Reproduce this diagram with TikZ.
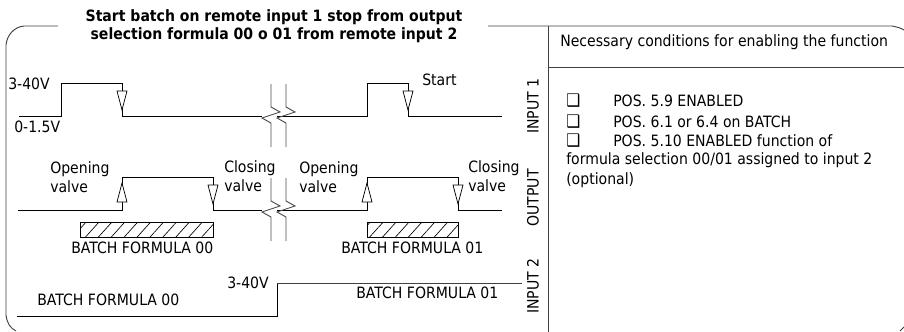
\documentclass[tikz,border=0pt]{standalone}
\usepackage{fontspec}
\setmainfont{DejaVu Sans}[FakeStretch=0.9]
\usetikzlibrary{patterns.meta, positioning}

\begin{document}
\begin{tikzpicture}[
x=0.75pt, y=-0.75pt,
txt/.style={font=\fontsize{11.7}{14}\selectfont, inner sep=0pt},
txt-left/.style={txt, anchor=west},
title-line/.style={txt, font=\fontsize{11.7}{14}\selectfont\bfseries},
side/.style={txt, rotate=90},
check-box/.style={txt-left, font=\fontsize{13}{14}\selectfont\bfseries},
frame/.style={draw=black!75, line width=0.7pt},
trace/.style={draw=black, line width=0.7pt},
tip/.style={draw=black, line width=0.55pt, fill=white},
bar/.style={draw=black, line width=0.6pt, pattern={Lines[angle=48, distance=7.2pt, line width=0.5pt]}},
break-mark/.pic={
  \draw [draw=black!70, line width=0.7pt] (0,0) -- (0,23) -- (9,28) -- (-9,34) -- (0,39) -- (0,63);
  \draw [draw=black!70, line width=0.7pt] (15,0) -- (15,23) -- (24,28) -- (6,34) -- (15,39) -- (15,63);
}
]

\useasboundingbox (0,0) rectangle (904,332);

% frame
\path [frame] (58,26) -- (24,26) .. controls (14,27) and (7,35) .. (6,45) -- (6,315) .. controls (7,323) and (10,328) .. (16,331);
\path [frame] (488,26) -- (892,26) .. controls (897,27) and (901,28) .. (904,30);
\path [frame] (548,26) -- (548,332);
\path [frame] (548,67) -- (904,67);
\path [frame] (900,331) -- (904,327);

% title
\node [title-line] (title-1) at (274,17) {Start batch on remote input 1 stop from output};
\node [title-line] (title-2) at (274,35) {selection formula 00 o 01 from remote input 2};

% input 1
\path [trace] (19,116) -- (61,116) -- (61,83) -- (122,83) -- (122,116) -- (262,116);
\path [trace] (277,116) -- (367,116) -- (367,83) -- (408,83) -- (408,116) -- (502,116);
\path [tip] (117,91) -- (127,91) -- (122,110) -- cycle;
\path [tip] (403,91) -- (413,91) -- (408,110) -- cycle;
\pic at (271,84) {break-mark};

% output
\path [trace] (18,210) -- (122,210) -- (122,177) -- (213,177) -- (213,210) -- (262,210);
\path [trace] (277,210) -- (367,210) -- (367,177) -- (458,177) -- (458,210) -- (502,210);
\path [tip] (117,202) -- (127,202) -- (122,183) -- cycle;
\path [tip] (208,185) -- (218,185) -- (213,204) -- cycle;
\path [tip] (362,202) -- (372,202) -- (367,183) -- cycle;
\path [tip] (453,185) -- (463,185) -- (458,204) -- cycle;
\pic at (271,178) {break-mark};
\path [bar] (80,222) rectangle (213,237);
\path [bar] (367,222) rectangle (458,237);

% input 2
\path [trace] (17,316) -- (277,316) -- (277,283);
\path [frame] (277,283) -- (522,283);

% labels
\node [txt-left] (high-1) at (8,84) {3-40V};
\node [txt-left] (low-1) at (14,127) {0-1.5V};
\node [txt-left] (start) at (422,80) {Start};
\node [txt-left, align=left] (open-1) at (50,177) {Opening\\valve};
\node [txt-left, align=left] (close-1) at (224,176) {Closing\\valve};
\node [txt-left, align=left] (open-2) at (299,177) {Opening\\valve};
\node [txt-left, align=left] (close-2) at (468,176) {Closing\\valve};
\node [txt-left] (batch-00) at (71,248) {BATCH FORMULA 00};
\node [txt-left] (batch-01) at (341,248) {BATCH FORMULA 01};
\node [txt-left] (high-2) at (227,283) {3-40V};
\node [txt-left] (level-00) at (37,300) {BATCH FORMULA 00};
\node [txt-left] (level-01) at (356,293) {BATCH FORMULA 01};
\node [side] (input-1) at (533,106) {INPUT 1};
\node [side] (output) at (533,198) {OUTPUT};
\node [side] (input-2) at (533,286) {INPUT 2};

% conditions
\node [txt-left] (cond-head) at (560,42) {Necessary conditions for enabling the function};
\node [check-box] (box-1) at (566,101) {❑};
\node [check-box] (box-2) at (566,122) {❑};
\node [check-box] (box-3) at (566,141) {❑};
\node [txt-left] (cond-1) at (613,101) {POS. 5.9 ENABLED};
\node [txt-left] (cond-2) at (613,122) {POS. 6.1 or 6.4 on BATCH};
\node [txt-left] (cond-3) at (613,141) {POS. 5.10 ENABLED function of};
\node [txt-left] (cond-4) at (566,160) {formula selection 00/01 assigned to input 2};
\node [txt-left] (cond-5) at (566,180) {(optional)};

\end{tikzpicture}
\end{document}
